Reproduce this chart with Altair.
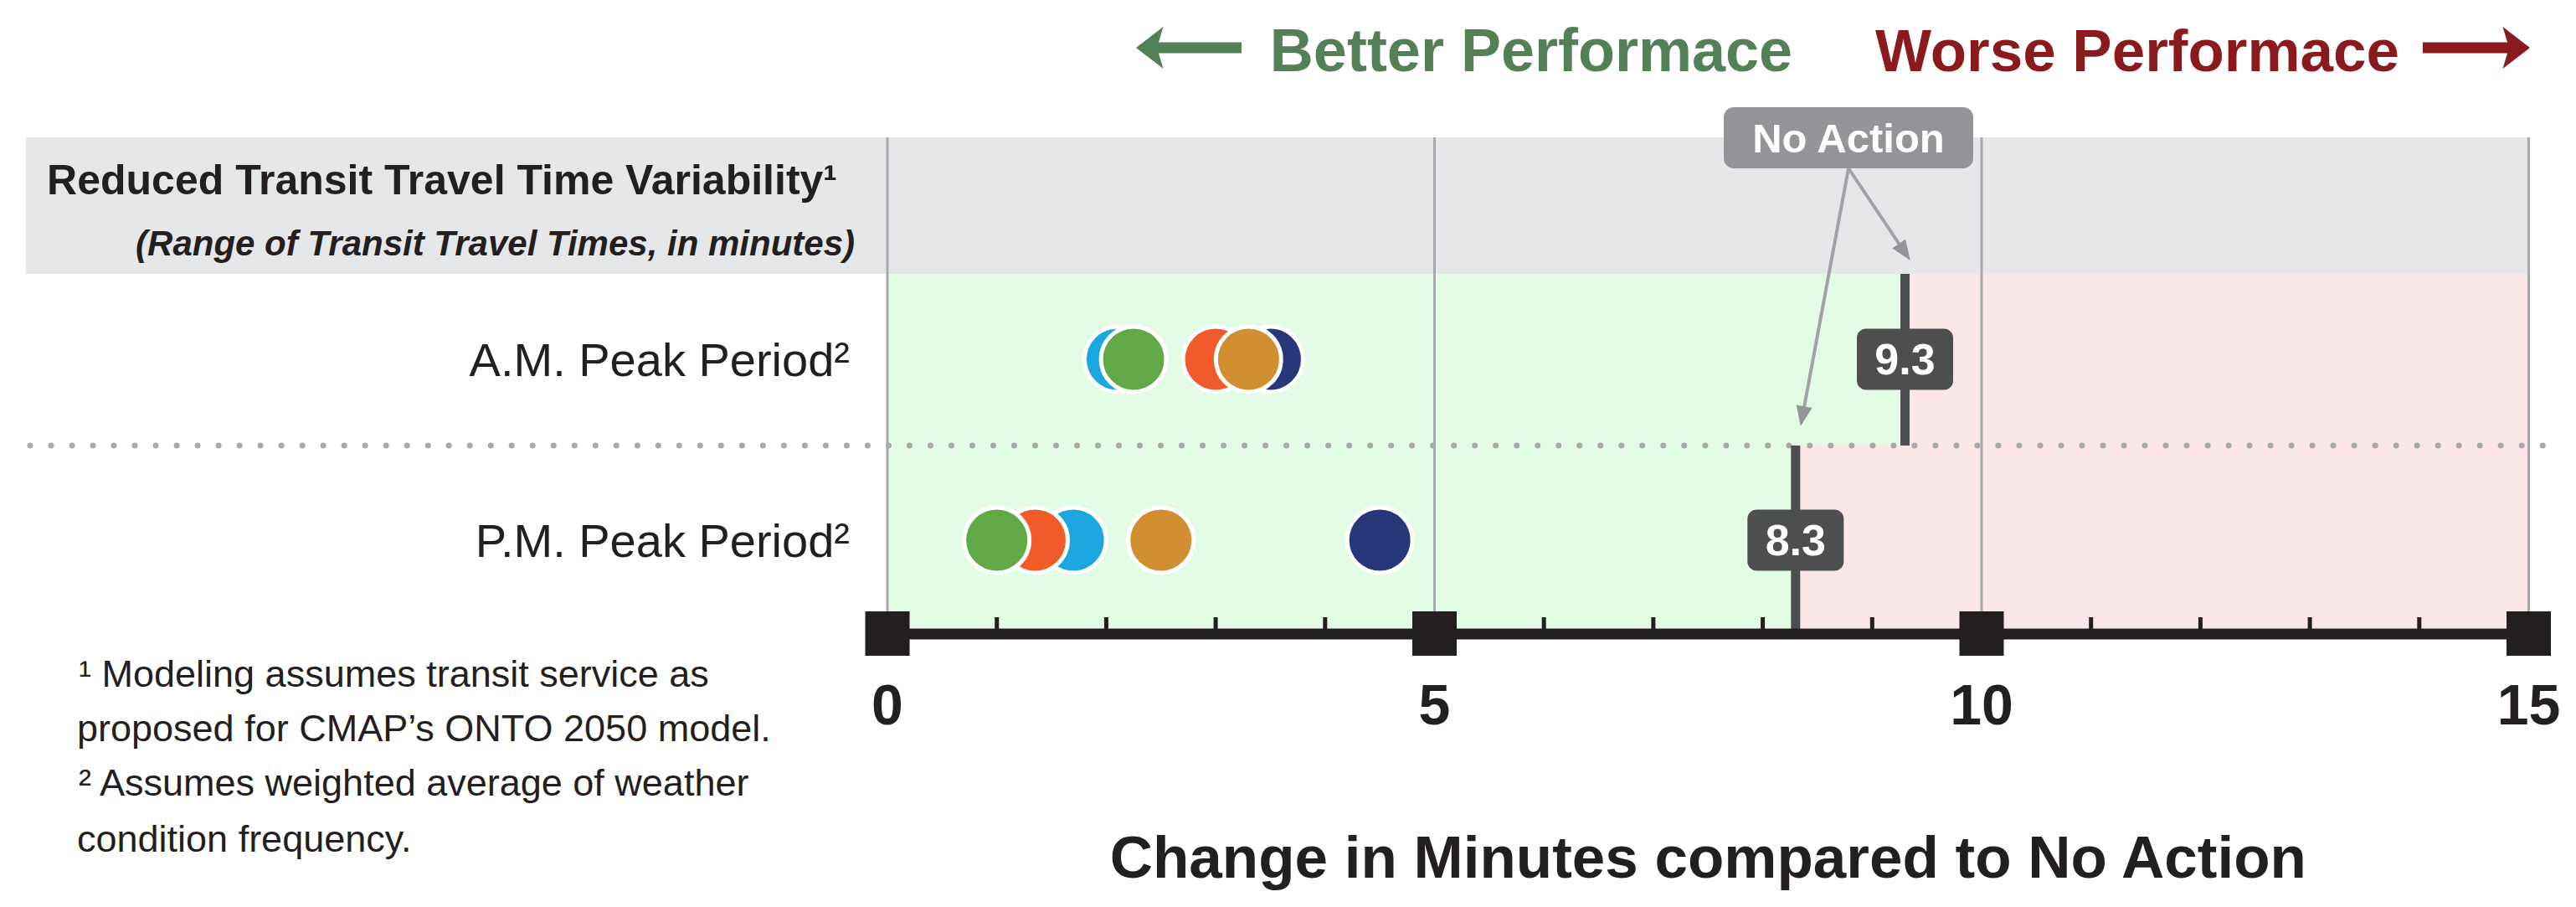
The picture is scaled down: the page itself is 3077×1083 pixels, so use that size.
import altair as alt
import pandas as pd

# ---------------- data ----------------
series = ["Cyan", "Navy", "Orange", "Green", "Gold"]          # draw order (bottom -> top)
series_colors = ["#1BA8E0", "#263879", "#F15A29", "#61A846", "#D18F32"]
am_values = [2.1, 3.5, 3.0, 2.25, 3.3]
pm_values = [1.7, 4.5, 1.35, 1.0, 2.5]
periods = ["A.M. Peak Period²", "P.M. Peak Period²"]
no_action = [9.3, 8.3]
no_action_labels = ["9.3", "8.3"]
major_ticks = [0, 5, 10, 15]
tick_labels = ["0", "5", "10", "15"]
minor_ticks = [1, 2, 3, 4, 6, 7, 8, 9, 11, 12, 13, 14]
header_title = "Reduced Transit Travel Time Variability¹"
header_sub = "(Range of Transit Travel Times, in minutes)"
x_title = "Change in Minutes compared to No Action"
better_label = "Better Performace"
worse_label = "Worse Performace"
footnotes = [
    "¹ Modeling assumes transit service as",
    "proposed for CMAP’s ONTO 2050 model.",
    "² Assumes weighted average of weather",
    "condition frequency.",
]

# ---------------- layout ----------------
W, H = 3055, 1060
X0_PAGE = 1060.0
PXU = 130.7


def xv(px):
    return (px - X0_PAGE) / PXU


def yv(py):
    return py - 8


XMIN, XMAX = xv(8), xv(8 + W)
XS = alt.Scale(domain=[XMIN, XMAX], nice=False, zero=False)
YS = alt.Scale(domain=[0, H], reverse=True, nice=False, zero=False)

FONT = "Liberation Sans, Arial, sans-serif"
INK = "#231F20"
GRID = "#A7A9AC"
DARK = "#4D4E50"
GREEN_BG = "#E3FCE6"
PINK_BG = "#FBE6E8"
HEADER_BG = "#E6E7E8"
GOOD = "#548057"
BAD = "#8B1A1E"

row_top = [327, 532]
row_bottom = [532, 750]
bar_bottom = [532, 757]
row_center = [429, 645]


def X(f="x"):
    return alt.X(f"{f}:Q", scale=XS, axis=None)


def Y(f="y"):
    return alt.Y(f"{f}:Q", scale=YS, axis=None)


def text_layer(df, **kw):
    return alt.Chart(df).mark_text(font=FONT, baseline="alphabetic", **kw).encode(
        x=X(), y=Y(), text="t:N")


layers = []

# header band
hdr = pd.DataFrame({"x": [xv(31)], "x2": [15], "y": [yv(164)], "y2": [yv(327)]})
layers.append(alt.Chart(hdr).mark_rect(color=HEADER_BG).encode(
    x=X(), x2="x2", y=Y(), y2="y2"))

# better / worse regions
green_reg = pd.DataFrame({"x": [0, 0], "x2": no_action,
                          "y": [yv(v) for v in row_top], "y2": [yv(v) for v in row_bottom]})
pink_reg = pd.DataFrame({"x": no_action, "x2": [15, 15],
                         "y": [yv(v) for v in row_top], "y2": [yv(v) for v in row_bottom]})
layers.append(alt.Chart(green_reg).mark_rect(color=GREEN_BG).encode(x=X(), x2="x2", y=Y(), y2="y2"))
layers.append(alt.Chart(pink_reg).mark_rect(color=PINK_BG).encode(x=X(), x2="x2", y=Y(), y2="y2"))

# vertical gridlines
grid = pd.DataFrame({"x": major_ticks, "y": [yv(164)] * 4, "y2": [yv(750)] * 4})
layers.append(alt.Chart(grid).mark_rule(color=GRID, strokeWidth=3).encode(
    x=X(), y=Y(), y2="y2"))

# dotted separator
dots = pd.DataFrame({"x": [xv(36)], "x2": [xv(3045)], "y": [yv(532)]})
layers.append(alt.Chart(dots).mark_rule(color=GRID, strokeWidth=7, strokeCap="round",
                                        strokeDash=[0.01, 25]).encode(
    x=X(), x2="x2", y=Y()))

# no-action bars
bars = pd.DataFrame({"x": no_action, "y": [yv(v) for v in row_top], "y2": [yv(v) for v in bar_bottom]})
layers.append(alt.Chart(bars).mark_rule(color=DARK, strokeWidth=11).encode(
    x=X(), y=Y(), y2="y2"))

# no-action value boxes
hw = 57.5 / PXU
boxes = pd.DataFrame({
    "x": [v - hw for v in no_action], "x2": [v + hw for v in no_action],
    "y": [yv(c - 36.5) for c in row_center], "y2": [yv(c + 36.5) for c in row_center],
    "xc": no_action, "yc": [yv(c + 18) for c in row_center], "t": no_action_labels})
layers.append(alt.Chart(boxes).mark_rect(color=DARK, cornerRadius=11).encode(
    x=X(), x2="x2", y=Y(), y2="y2"))
layers.append(alt.Chart(boxes).mark_text(font=FONT, fontSize=52, fontWeight="bold", color="white",
                                         align="center", baseline="alphabetic").encode(
    x=X("xc"), y=Y("yc"), text="t:N"))

# circles
pts = pd.DataFrame({
    "period": [periods[0]] * 5 + [periods[1]] * 5,
    "series": series + series,
    "value": am_values + pm_values,
    "y": [yv(row_center[0])] * 5 + [yv(row_center[1])] * 5,
})
pts = pd.concat([pts.iloc[[0, 5]], pts.iloc[[1, 6]], pts.iloc[[2, 7]], pts.iloc[[3, 8]], pts.iloc[[4, 9]]])
layers.append(alt.Chart(pts).mark_circle(size=6084, opacity=1, stroke="white", strokeWidth=5).encode(
    x=X("value"), y=Y(),
    color=alt.Color("series:N", scale=alt.Scale(domain=series, range=series_colors), legend=None)))

# axis line, ticks, squares
axis_df = pd.DataFrame({"x": [0], "x2": [15], "y": [yv(757)]})
layers.append(alt.Chart(axis_df).mark_rule(color=INK, strokeWidth=13).encode(x=X(), x2="x2", y=Y()))
minor = pd.DataFrame({"x": minor_ticks, "y": [yv(737)] * len(minor_ticks), "y2": [yv(757)] * len(minor_ticks)})
layers.append(alt.Chart(minor).mark_rule(color=INK, strokeWidth=5).encode(x=X(), y=Y(), y2="y2"))
major = pd.DataFrame({"x": major_ticks, "y": [yv(756.5)] * 4, "t": tick_labels})
layers.append(alt.Chart(major).mark_point(shape="square", filled=True, size=2809, color=INK, opacity=1).encode(
    x=X(), y=Y()))
major_lbl = pd.DataFrame({"x": major_ticks, "y": [yv(865)] * 4, "t": tick_labels})
layers.append(text_layer(major_lbl, fontSize=68, fontWeight="bold", color=INK, align="center"))

# x title
xt = pd.DataFrame({"x": [7.5], "y": [yv(1048)], "t": [x_title]})
layers.append(text_layer(xt, fontSize=71, fontWeight="bold", color=INK, align="center"))

# row labels
rl = pd.DataFrame({"x": [xv(1015)] * 2, "y": [yv(c + 20) for c in row_center], "t": periods})
layers.append(text_layer(rl, fontSize=56, color=INK, align="right"))

# header texts
h1 = pd.DataFrame({"x": [xv(1000)], "y": [yv(232)], "t": [header_title]})
layers.append(text_layer(h1, fontSize=50, fontWeight="bold", color=INK, align="right"))
h2 = pd.DataFrame({"x": [xv(1021)], "y": [yv(305)], "t": [header_sub]})
layers.append(text_layer(h2, fontSize=42, fontWeight="bold", fontStyle="italic", color=INK, align="right"))

# footnotes
fn = pd.DataFrame({"x": [xv(94), xv(92), xv(94), xv(92)], "y": [yv(820), yv(885), yv(950), yv(1017)],
                   "t": footnotes})
layers.append(text_layer(fn, fontSize=45, color=INK, align="left"))

# better / worse headings with arrows
bt = pd.DataFrame({"x": [xv(1829)], "y": [yv(85)], "t": [better_label]})
layers.append(text_layer(bt, fontSize=72, fontWeight="bold", color=GOOD, align="center"))
wt = pd.DataFrame({"x": [xv(2553)], "y": [yv(85)], "t": [worse_label]})
layers.append(text_layer(wt, fontSize=71, fontWeight="bold", color=BAD, align="center"))
gshaft = pd.DataFrame({"x": [xv(1382)], "x2": [xv(1483)], "y": [yv(57)]})
layers.append(alt.Chart(gshaft).mark_rule(color=GOOD, strokeWidth=13).encode(x=X(), x2="x2", y=Y()))
ghead = pd.DataFrame({"x": [xv(1382)], "y": [yv(57)]})
layers.append(alt.Chart(ghead).mark_point(shape="M-1,0L0.3,-1L0,0L0.3,1Z", filled=True, size=2500,
                                          color=GOOD, opacity=1).encode(x=X(), y=Y()))
rshaft = pd.DataFrame({"x": [xv(2894)], "x2": [xv(2997)], "y": [yv(57)]})
layers.append(alt.Chart(rshaft).mark_rule(color=BAD, strokeWidth=13).encode(x=X(), x2="x2", y=Y()))
rhead = pd.DataFrame({"x": [xv(2997)], "y": [yv(57)]})
layers.append(alt.Chart(rhead).mark_point(shape="M1,0L-0.3,-1L0,0L-0.3,1Z", filled=True, size=2500,
                                          color=BAD, opacity=1).encode(x=X(), y=Y()))

# "No Action" callout
NA_GRAY = "#939598"
arrows = pd.DataFrame({"x": [xv(2208)] * 2, "y": [yv(201)] * 2,
                       "x2": [xv(2275), xv(2153)], "y2": [yv(301), yv(497)]})
layers.append(alt.Chart(arrows).mark_rule(color="#A0A2A5", strokeWidth=4).encode(
    x=X(), y=Y(), x2="x2", y2="y2"))
tri = "M0,-1L0.8,1L-0.8,1Z"
a1 = pd.DataFrame({"x": [xv(2275)], "y": [yv(301)]})
layers.append(alt.Chart(a1).mark_point(shape=tri, filled=True, size=576, angle=145.5, color=NA_GRAY,
                                       opacity=1).encode(x=X(), y=Y()))
a2 = pd.DataFrame({"x": [xv(2153)], "y": [yv(497)]})
layers.append(alt.Chart(a2).mark_point(shape=tri, filled=True, size=576, angle=190.5, color=NA_GRAY,
                                       opacity=1).encode(x=X(), y=Y()))
nab = pd.DataFrame({"x": [xv(2059)], "x2": [xv(2357)], "y": [yv(128)], "y2": [yv(201)]})
layers.append(alt.Chart(nab).mark_rect(color=NA_GRAY, cornerRadius=12).encode(
    x=X(), x2="x2", y=Y(), y2="y2"))
nat = pd.DataFrame({"x": [xv(2208)], "y": [yv(182)], "t": ["No Action"]})
layers.append(text_layer(nat, fontSize=49, fontWeight="bold", color="white", align="center"))

chart = alt.layer(*layers).properties(
    width=W, height=H, padding=0,
    autosize=alt.AutoSizeParams(type="none"),
).configure_view(stroke=None)

chart.save("out.html", embed_options={"renderer": "svg", "actions": False})
